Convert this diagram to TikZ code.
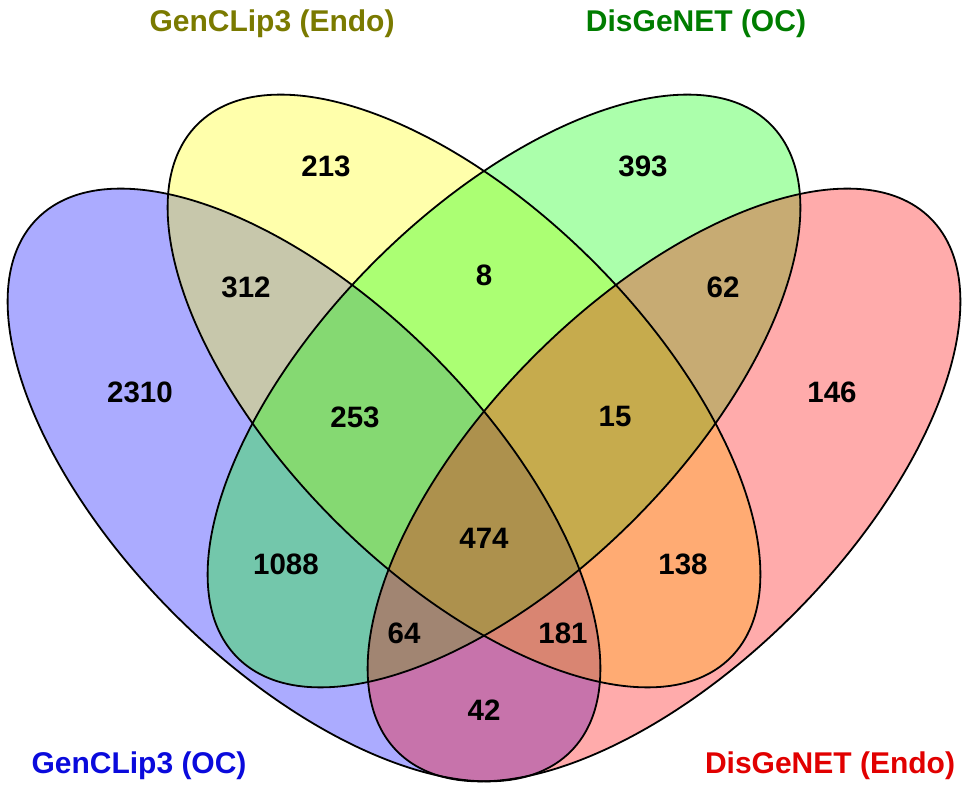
\documentclass[tikz,border=0pt]{standalone}
\usepackage{fontspec}
\setmainfont{Liberation Sans}
\definecolor{vblue}{RGB}{0,0,255}
\definecolor{vyellow}{RGB}{255,255,0}
\definecolor{vgreen}{RGB}{0,255,0}
\definecolor{vred}{RGB}{255,0,0}
\definecolor{tolive}{RGB}{122,122,0}
\definecolor{tgreen}{RGB}{0,125,0}
\definecolor{tblue}{RGB}{10,10,220}
\definecolor{tred}{RGB}{225,0,0}
\begin{document}
\begin{tikzpicture}[x=1pt,y=1pt,
  setfill/.style={fill opacity=0.33},
  outline/.style={draw=black,line width=1.8pt},
  num/.style={font=\fontsize{29.5}{30}\selectfont\bfseries, inner sep=0pt},
  ttl/.style={font=\fontsize{30}{31}\selectfont\bfseries, inner sep=0pt, anchor=base}]
\useasboundingbox (0,0) rectangle (968,789);
\coordinate (cb) at (304,304);
\coordinate (cy) at (464,398);
\coordinate (cg) at (504,398);
\coordinate (cr) at (664,304);
% fills
\fill[vblue, setfill, rotate around={-45:(cb)}] (cb) ellipse [x radius=377pt, y radius=183pt];
\fill[vyellow, setfill, rotate around={-45:(cy)}] (cy) ellipse [x radius=377pt, y radius=183pt];
\fill[vgreen, setfill, rotate around={45:(cg)}] (cg) ellipse [x radius=377pt, y radius=183pt];
\fill[vred, setfill, rotate around={45:(cr)}] (cr) ellipse [x radius=377pt, y radius=183pt];
% outlines
\draw[outline, rotate around={-45:(cb)}] (cb) ellipse [x radius=377pt, y radius=183pt];
\draw[outline, rotate around={-45:(cy)}] (cy) ellipse [x radius=377pt, y radius=183pt];
\draw[outline, rotate around={45:(cg)}] (cg) ellipse [x radius=377pt, y radius=183pt];
\draw[outline, rotate around={45:(cr)}] (cr) ellipse [x radius=377pt, y radius=183pt];
% titles
\node[ttl, text=tolive] (t2) at (272,757) {GenCLip3 (Endo)};
\node[ttl, text=tgreen] (t3) at (696,757) {DisGeNET (OC)};
\node[ttl, text=tblue] (t1) at (139,16) {GenCLip3 (OC)};
\node[ttl, text=tred] (t4) at (830,16) {DisGeNET (Endo)};
% counts
\node[num] (n213) at (326,623) {213};
\node[num] (n393) at (643,623) {393};
\node[num] (n312) at (246,502) {312};
\node[num] (n8) at (484,514) {8};
\node[num] (n62) at (723,502) {62};
\node[num] (n2310) at (140,397) {2310};
\node[num] (n253) at (355,372) {253};
\node[num] (n15) at (615,372) {15};
\node[num] (n146) at (832,397) {146};
\node[num] (n474) at (484,251) {474};
\node[num] (n1088) at (286,225) {1088};
\node[num] (n138) at (683,225) {138};
\node[num] (n64) at (404,156) {64};
\node[num] (n181) at (563,156) {181};
\node[num] (n42) at (484,79) {42};
\end{tikzpicture}
\end{document}
